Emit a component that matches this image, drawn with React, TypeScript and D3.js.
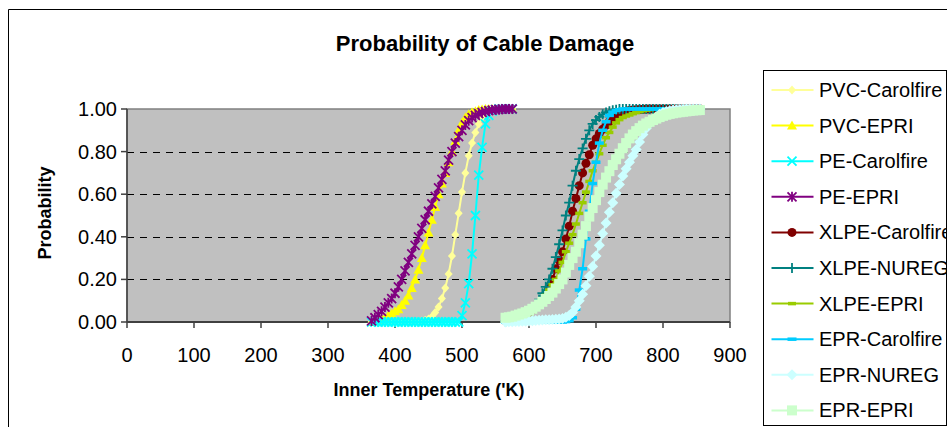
import React from "react";
import * as d3 from "d3";

// Temperature grids ('K) for the two groups of cable materials
const lowTemps = [
  365, 370, 375, 380, 385, 390, 395, 400, 405, 410, 415, 420, 425, 430, 435,
  440, 445, 450, 455, 460, 465, 470, 475, 480, 485, 490, 495, 500, 505, 510,
  515, 520, 525, 530, 535, 540, 545, 550, 555, 560, 565, 570, 575,
];
const highTemps = [
  565, 570, 575, 580, 585, 590, 595, 600, 605, 610, 615, 620, 625, 630, 635,
  640, 645, 650, 655, 660, 665, 670, 675, 680, 685, 690, 695, 700, 705, 710,
  715, 720, 725, 730, 735, 740, 745, 750, 755, 760, 765, 770, 775, 780, 785,
  790, 795, 800, 805, 810, 815, 820, 825, 830, 835, 840, 845, 850, 855,
];

// Damage probabilities
const pvcCarolfire = [
  0, 0, 0, 0, 0, 0, 0, 0, 0, 0, 0, 0.001, 0.001, 0.002, 0.003, 0.005, 0.008,
  0.014, 0.025, 0.045, 0.07, 0.11, 0.16, 0.225, 0.31, 0.41, 0.51, 0.61, 0.7,
  0.78, 0.84, 0.89, 0.93, 0.96, 0.975, 0.988, 0.994, 0.997, 0.999, 1, 1, 1, 1,
];
const pvcEpri = [
  0, 0.005, 0.01, 0.015, 0.02, 0.03, 0.04, 0.05, 0.06, 0.08, 0.1, 0.125, 0.16,
  0.2, 0.245, 0.3, 0.36, 0.42, 0.48, 0.54, 0.6, 0.65, 0.7, 0.75, 0.8, 0.85,
  0.9, 0.935, 0.96, 0.975, 0.985, 0.99, 0.995, 0.998, 1, 1, 1, 1, 1, 1, 1, 1, 1,
];
const peCarolfire = [
  0, 0, 0, 0, 0, 0, 0, 0, 0, 0, 0, 0, 0, 0, 0, 0, 0, 0, 0, 0, 0, 0, 0, 0, 0, 0,
  0, 0.03, 0.09, 0.18, 0.32, 0.5, 0.69, 0.82, 0.93, 0.97, 0.99, 0.997, 1, 1, 1,
  1, 1,
];
const peEpri = [
  0.005, 0.02, 0.035, 0.05, 0.07, 0.09, 0.11, 0.135, 0.165, 0.2, 0.24, 0.28,
  0.32, 0.36, 0.4, 0.44, 0.48, 0.52, 0.555, 0.59, 0.63, 0.67, 0.71, 0.76, 0.8,
  0.84, 0.87, 0.9, 0.925, 0.945, 0.96, 0.97, 0.978, 0.984, 0.988, 0.992, 0.995,
  0.997, 0.998, 0.999, 1, 1, 1,
];
const xlpeCarolfire = [
  0.005, 0.008, 0.011, 0.015, 0.02, 0.027, 0.035, 0.045, 0.058, 0.072, 0.088,
  0.105, 0.13, 0.165, 0.2, 0.25, 0.29, 0.33, 0.39, 0.45, 0.52, 0.58, 0.64, 0.7,
  0.745, 0.785, 0.83, 0.86, 0.885, 0.905, 0.925, 0.94, 0.955, 0.967, 0.976,
  0.984, 0.989, 0.993, 0.995, 0.997, 0.998, 0.999, 1, 1, 1, 1, 1, 1, 1, 1, 1,
  1, 1, 1, 1, 1, 1, 1, 1,
];
const xlpeNureg = [
  0.003, 0.005, 0.008, 0.012, 0.017, 0.024, 0.033, 0.045, 0.06, 0.08, 0.105,
  0.135, 0.165, 0.2, 0.25, 0.305, 0.365, 0.43, 0.5, 0.56, 0.64, 0.71, 0.765,
  0.815, 0.86, 0.9, 0.93, 0.948, 0.963, 0.975, 0.984, 0.99, 0.994, 0.997, 1, 1,
  1, 1, 1, 1, 1, 1, 1, 1, 1, 1, 1, 1, 1, 1, 1, 1, 1, 1, 1, 1, 1, 1, 1,
];
const xlpeEpri = [
  0.003, 0.005, 0.008, 0.012, 0.017, 0.023, 0.03, 0.04, 0.05, 0.065, 0.08, 0.1,
  0.125, 0.15, 0.175, 0.2, 0.24, 0.28, 0.33, 0.37, 0.41, 0.46, 0.51, 0.56,
  0.61, 0.66, 0.71, 0.75, 0.79, 0.83, 0.865, 0.89, 0.915, 0.935, 0.95, 0.96,
  0.967, 0.972, 0.978, 0.983, 0.988, 0.992, 0.995, 0.997, 1, 1, 1, 1, 1, 1, 1,
  1, 1, 1, 1, 1, 1, 1, 1,
];
const eprCarolfire = [
  0, 0, 0, 0, 0, 0, 0, 0, 0, 0, 0, 0, 0, 0, 0, 0, 0, 0, 0.002, 0.006, 0.02,
  0.06, 0.15, 0.25, 0.39, 0.52, 0.65, 0.75, 0.84, 0.9, 0.94, 0.97, 0.985,
  0.993, 0.997, 1, 1, 1, 1, 1, 1, 1, 1, 1, 1, 1, 1, 1, 1, 1, 1, 1, 1, 1, 1, 1,
  1, 1, 1,
];
const eprNureg = [
  0, 0.001, 0.001, 0.002, 0.002, 0.003, 0.004, 0.005, 0.006, 0.007, 0.008,
  0.009, 0.01, 0.011, 0.012, 0.013, 0.014, 0.017, 0.022, 0.03, 0.045, 0.07,
  0.1, 0.13, 0.17, 0.215, 0.26, 0.31, 0.36, 0.415, 0.465, 0.515, 0.56, 0.605,
  0.645, 0.685, 0.72, 0.75, 0.78, 0.81, 0.845, 0.88, 0.91, 0.932, 0.95, 0.964,
  0.975, 0.983, 0.988, 0.992, 0.995, 0.997, 0.998, 0.999, 1, 1, 1, 1, 1,
];
const eprEpri = [
  0.02, 0.022, 0.025, 0.03, 0.035, 0.04, 0.046, 0.053, 0.062, 0.072, 0.083,
  0.095, 0.108, 0.122, 0.138, 0.157, 0.178, 0.2, 0.232, 0.268, 0.3, 0.33, 0.37,
  0.41, 0.45, 0.495, 0.535, 0.572, 0.61, 0.645, 0.678, 0.708, 0.737, 0.764,
  0.79, 0.816, 0.84, 0.862, 0.88, 0.896, 0.91, 0.922, 0.932, 0.94, 0.948,
  0.955, 0.962, 0.968, 0.973, 0.977, 0.98, 0.983, 0.985, 0.987, 0.989, 0.991,
  0.993, 0.994, 0.995,
];

const xTicks = [0, 100, 200, 300, 400, 500, 600, 700, 800, 900];
const yTicks = [0, 0.2, 0.4, 0.6, 0.8, 1.0];
const gridTicks = [0.2, 0.4, 0.6, 0.8];

type MarkerKind =
  | "diamond"
  | "triangle"
  | "x"
  | "star"
  | "circle"
  | "plus"
  | "dash"
  | "dashWide"
  | "bigDiamond"
  | "square";

interface Series {
  name: string;
  temps: number[];
  probs: number[];
  color: string;
  marker: MarkerKind;
}

const series: Series[] = [
  { name: "PVC-Carolfire", temps: lowTemps, probs: pvcCarolfire, color: "#FFFF99", marker: "diamond" },
  { name: "PVC-EPRI", temps: lowTemps, probs: pvcEpri, color: "#FFFF00", marker: "triangle" },
  { name: "PE-Carolfire", temps: lowTemps, probs: peCarolfire, color: "#00FFFF", marker: "x" },
  { name: "PE-EPRI", temps: lowTemps, probs: peEpri, color: "#800080", marker: "star" },
  { name: "XLPE-Carolfire", temps: highTemps, probs: xlpeCarolfire, color: "#800000", marker: "circle" },
  { name: "XLPE-NUREG", temps: highTemps, probs: xlpeNureg, color: "#008080", marker: "plus" },
  { name: "XLPE-EPRI", temps: highTemps, probs: xlpeEpri, color: "#99CC00", marker: "dash" },
  { name: "EPR-Carolfire", temps: highTemps, probs: eprCarolfire, color: "#00CCFF", marker: "dashWide" },
  { name: "EPR-NUREG", temps: highTemps, probs: eprNureg, color: "#CCFFFF", marker: "bigDiamond" },
  { name: "EPR-EPRI", temps: highTemps, probs: eprEpri, color: "#CCFFCC", marker: "square" },
];

const FONT = "'Liberation Sans', Arial, sans-serif";

function Marker({ kind, x, y, c }: { kind: MarkerKind; x: number; y: number; c: string }) {
  switch (kind) {
    case "diamond":
      return <path d={`M${x},${y - 4.5}L${x + 4},${y}L${x},${y + 4.5}L${x - 4},${y}Z`} fill={c} />;
    case "triangle":
      return <path d={`M${x},${y - 5}L${x + 5},${y + 4}L${x - 5},${y + 4}Z`} fill={c} />;
    case "x":
      return (
        <path
          d={`M${x - 4.5},${y - 4.5}L${x + 4.5},${y + 4.5}M${x - 4.5},${y + 4.5}L${x + 4.5},${y - 4.5}`}
          stroke={c}
          strokeWidth={1.8}
          fill="none"
        />
      );
    case "star":
      return (
        <path
          d={`M${x - 4.5},${y - 4.5}L${x + 4.5},${y + 4.5}M${x - 4.5},${y + 4.5}L${x + 4.5},${y - 4.5}M${x},${y - 5}L${x},${y + 5}`}
          stroke={c}
          strokeWidth={1.8}
          fill="none"
        />
      );
    case "circle":
      return <circle cx={x} cy={y} r={4.5} fill={c} />;
    case "plus":
      return (
        <path
          d={`M${x - 5},${y}L${x + 5},${y}M${x},${y - 5}L${x},${y + 5}`}
          stroke={c}
          strokeWidth={1.8}
          fill="none"
        />
      );
    case "dash":
      return <rect x={x - 4} y={y - 1.75} width={8} height={3.5} fill={c} />;
    case "dashWide":
      return <rect x={x - 4.5} y={y - 1.75} width={9} height={3.5} fill={c} />;
    case "bigDiamond":
      return <path d={`M${x},${y - 5.5}L${x + 5.5},${y}L${x},${y + 5.5}L${x - 5.5},${y}Z`} fill={c} />;
    case "square":
      return <rect x={x - 5} y={y - 5} width={10} height={10} fill={c} />;
  }
  return null;
}

export default function App() {
  const W = 947;
  const H = 427;
  const x = d3.scaleLinear().domain([0, 900]).range([127, 730]);
  const y = d3.scaleLinear().domain([0, 1]).range([322, 109]);
  const line = d3
    .line<[number, number]>()
    .x((d) => x(d[0]))
    .y((d) => y(d[1]));

  const legendX = 763;
  const legendTop = 70;
  const legendRowY = (i: number) => 90 + 35.6 * i;

  return (
    <svg
      width={W}
      height={H}
      style={{ position: "absolute", left: 0, top: 0, background: "#fff" }}
      fontFamily={FONT}
    >
      {/* chart area frame */}
      <line x1={8.5} y1={9.5} x2={W} y2={9.5} stroke="#000" strokeWidth={1} />
      <line x1={8.5} y1={9.5} x2={8.5} y2={H} stroke="#000" strokeWidth={1} />

      <text x={485} y={51} textAnchor="middle" fontSize={22} fontWeight="bold" fill="#000">
        Probability of Cable Damage
      </text>

      {/* plot area */}
      <rect x={127} y={109} width={603} height={213} fill="#C0C0C0" stroke="#808080" strokeWidth={1.5} />
      {gridTicks.map((t) => (
        <line
          key={t}
          x1={127}
          x2={730}
          y1={Math.round(y(t)) + 0.5}
          y2={Math.round(y(t)) + 0.5}
          stroke="#000"
          strokeWidth={1}
          strokeDasharray="7,6"
        />
      ))}

      {/* axes */}
      <line x1={127} x2={730} y1={322} y2={322} stroke="#404040" strokeWidth={2} />
      <line x1={127} x2={127} y1={109} y2={322} stroke="#404040" strokeWidth={1.5} />
      {xTicks.map((t) => (
        <g key={t}>
          <line x1={x(t)} x2={x(t)} y1={322} y2={328} stroke="#404040" strokeWidth={1.5} />
          <text x={x(t)} y={362} textAnchor="middle" fontSize={20} fill="#000">
            {t}
          </text>
        </g>
      ))}
      {yTicks.map((t) => (
        <g key={t}>
          <line x1={121} x2={127} y1={y(t)} y2={y(t)} stroke="#404040" strokeWidth={1.5} />
          <text x={117} y={y(t) + 7} textAnchor="end" fontSize={20} fill="#000">
            {d3.format(".2f")(t)}
          </text>
        </g>
      ))}

      <text x={429} y={396} textAnchor="middle" fontSize={18} fontWeight="bold" fill="#000">
        Inner Temperature ('K)
      </text>
      <text
        transform={`translate(51,213) rotate(-90)`}
        textAnchor="middle"
        fontSize={18}
        fontWeight="bold"
        fill="#000"
      >
        Probability
      </text>

      {/* series: line first, then its markers */}
      {series.map((s) => {
        const pts: [number, number][] = s.temps.map((t, i) => [t, s.probs[i]]);
        return (
          <g key={s.name}>
            <path d={line(pts) ?? ""} fill="none" stroke={s.color} strokeWidth={2} />
            {pts.map((p, i) => (
              <Marker key={i} kind={s.marker} x={x(p[0])} y={y(p[1])} c={s.color} />
            ))}
          </g>
        );
      })}

      {/* legend */}
      <rect x={legendX + 0.5} y={legendTop + 0.5} width={183} height={355} fill="#fff" stroke="#000" strokeWidth={1} />
      {series.map((s, i) => {
        const cy = legendRowY(i);
        return (
          <g key={s.name}>
            <line x1={771.5} x2={813.5} y1={cy} y2={cy} stroke={s.color} strokeWidth={2} />
            <Marker kind={s.marker} x={792} y={cy} c={s.color} />
            <text x={819} y={cy + 7} fontSize={20} fill="#000">
              {s.name}
            </text>
          </g>
        );
      })}
    </svg>
  );
}
